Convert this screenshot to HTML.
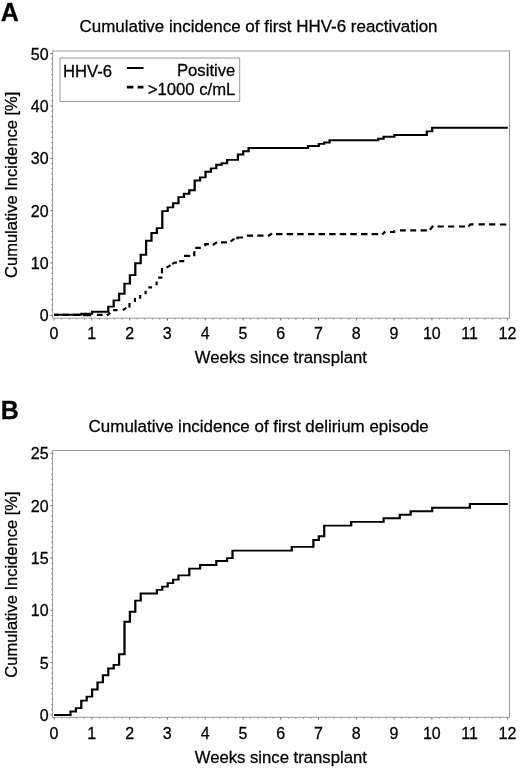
<!DOCTYPE html>
<html lang="en">
<head>
<meta charset="utf-8">
<title>Cumulative incidence figure</title>
<style>
html,body{margin:0;padding:0;background:#fff;}
body{width:520px;height:771px;overflow:hidden;}
svg{display:block;filter:grayscale(1);font-family:"Liberation Sans",sans-serif;font-size:16.6px;fill:#000;}
text{stroke:#000;stroke-width:0.28px;}
.ttl{font-size:16.97px;}
.lg{font-size:16.72px;}
.tk{font-size:16px;}
.pl{font-size:25px;font-weight:bold;}
.c{fill:none;stroke:#000;stroke-width:2.25;stroke-linejoin:miter;stroke-linecap:butt;}
.d{stroke-width:2.2;}
</style>
</head>
<body>
<svg width="520" height="771" viewBox="0 0 520 771">
<rect width="520" height="771" fill="#fff"/>

<g id="panelA">
<text class="pl" x="0.8" y="20.6">A</text>
<text class="ttl" x="258.5" y="31.6" text-anchor="middle">Cumulative incidence of first HHV-6 reactivation</text>
<rect x="52.6" y="51.0" width="456.9" height="267.2" fill="none" stroke="#9a9a9a" stroke-width="1"/>
<path d="M61.66 318.2v1.5 M69.21 318.2v1.5 M76.77 318.2v1.5 M84.32 318.2v1.5 M99.44 318.2v1.5 M106.99 318.2v1.5 M114.55 318.2v1.5 M122.10 318.2v1.5 M137.22 318.2v1.5 M144.77 318.2v1.5 M152.33 318.2v1.5 M159.88 318.2v1.5 M175.00 318.2v1.5 M182.55 318.2v1.5 M190.11 318.2v1.5 M197.66 318.2v1.5 M212.78 318.2v1.5 M220.33 318.2v1.5 M227.89 318.2v1.5 M235.44 318.2v1.5 M250.56 318.2v1.5 M258.11 318.2v1.5 M265.67 318.2v1.5 M273.22 318.2v1.5 M288.34 318.2v1.5 M295.89 318.2v1.5 M303.45 318.2v1.5 M311.00 318.2v1.5 M326.12 318.2v1.5 M333.67 318.2v1.5 M341.23 318.2v1.5 M348.78 318.2v1.5 M363.90 318.2v1.5 M371.45 318.2v1.5 M379.01 318.2v1.5 M386.56 318.2v1.5 M401.68 318.2v1.5 M409.23 318.2v1.5 M416.79 318.2v1.5 M424.34 318.2v1.5 M439.46 318.2v1.5 M447.01 318.2v1.5 M454.57 318.2v1.5 M462.12 318.2v1.5 M477.24 318.2v1.5 M484.79 318.2v1.5 M492.35 318.2v1.5 M499.90 318.2v1.5 M52.6 310.07h-1.5 M52.6 304.83h-1.5 M52.6 299.60h-1.5 M52.6 294.36h-1.5 M52.6 289.13h-1.5 M52.6 283.90h-1.5 M52.6 278.66h-1.5 M52.6 273.43h-1.5 M52.6 268.19h-1.5 M52.6 257.73h-1.5 M52.6 252.49h-1.5 M52.6 247.26h-1.5 M52.6 242.02h-1.5 M52.6 236.79h-1.5 M52.6 231.56h-1.5 M52.6 226.32h-1.5 M52.6 221.09h-1.5 M52.6 215.85h-1.5 M52.6 205.39h-1.5 M52.6 200.15h-1.5 M52.6 194.92h-1.5 M52.6 189.68h-1.5 M52.6 184.45h-1.5 M52.6 179.22h-1.5 M52.6 173.98h-1.5 M52.6 168.75h-1.5 M52.6 163.51h-1.5 M52.6 153.05h-1.5 M52.6 147.81h-1.5 M52.6 142.58h-1.5 M52.6 137.34h-1.5 M52.6 132.11h-1.5 M52.6 126.88h-1.5 M52.6 121.64h-1.5 M52.6 116.41h-1.5 M52.6 111.17h-1.5 M52.6 100.71h-1.5 M52.6 95.47h-1.5 M52.6 90.24h-1.5 M52.6 85.00h-1.5 M52.6 79.77h-1.5 M52.6 74.54h-1.5 M52.6 69.30h-1.5 M52.6 64.07h-1.5 M52.6 58.83h-1.5" stroke="#8a8a8a" stroke-width="0.85" fill="none"/>
<path d="M54.10 318.2v2.3 M91.88 318.2v2.3 M129.66 318.2v2.3 M167.44 318.2v2.3 M205.22 318.2v2.3 M243.00 318.2v2.3 M280.78 318.2v2.3 M318.56 318.2v2.3 M356.34 318.2v2.3 M394.12 318.2v2.3 M431.90 318.2v2.3 M469.68 318.2v2.3 M507.46 318.2v2.3 M52.6 315.30h-2.3 M52.6 262.96h-2.3 M52.6 210.62h-2.3 M52.6 158.28h-2.3 M52.6 105.94h-2.3 M52.6 53.60h-2.3" stroke="#6a6a6a" stroke-width="0.95" fill="none"/>
<g class="tk">
<text x="54.0" y="338.8" text-anchor="middle">0</text>
<text x="91.8" y="338.8" text-anchor="middle">1</text>
<text x="129.6" y="338.8" text-anchor="middle">2</text>
<text x="167.3" y="338.8" text-anchor="middle">3</text>
<text x="205.1" y="338.8" text-anchor="middle">4</text>
<text x="242.9" y="338.8" text-anchor="middle">5</text>
<text x="280.7" y="338.8" text-anchor="middle">6</text>
<text x="318.5" y="338.8" text-anchor="middle">7</text>
<text x="356.2" y="338.8" text-anchor="middle">8</text>
<text x="394.0" y="338.8" text-anchor="middle">9</text>
<text x="431.8" y="338.8" text-anchor="middle">10</text>
<text x="469.6" y="338.8" text-anchor="middle">11</text>
<text x="507.4" y="338.8" text-anchor="middle">12</text>
<text x="48.6" y="321.2" text-anchor="end">0</text>
<text x="48.6" y="268.9" text-anchor="end">10</text>
<text x="48.6" y="216.5" text-anchor="end">20</text>
<text x="48.6" y="164.2" text-anchor="end">30</text>
<text x="48.6" y="111.8" text-anchor="end">40</text>
<text x="48.6" y="59.5" text-anchor="end">50</text>
</g>
<text transform="translate(17.4 184.8) rotate(-90)" text-anchor="middle" font-size="16.5">Cumulative Incidence [%]</text>
<text x="280.8" y="363.4" text-anchor="middle" font-size="16.7">Weeks since transplant</text>
<rect x="60" y="58" width="179.7" height="43.4" fill="#fff" stroke="#9a9a9a" stroke-width="1"/>
<text class="lg" x="63" y="76.6">HHV-6</text>
<text class="lg" x="235.4" y="76.1" text-anchor="end">Positive</text>
<text class="lg" x="235.4" y="94.5" text-anchor="end">&gt;1000 c/mL</text>
<path class="c" style="stroke-width:2" d="M126.9 68H143.5"/>
<path class="c" style="stroke-width:2.7" d="M126.8 87.1H133.3M137.6 87.1H143.5"/>
<path class="c d" d="M54.1 314.9H58.5 M62.9 314.9H69.1 M73.5 314.9H79.7 M83.1 315.1H91.2 M96.9 314.9H102.6 M106.9 315.3L110.3 312.8 M113.1 310.1H117.6 M122.9 310.1L126.3 307.9 M129.5 307.5V303 M134.9 302V298 M140.2 298.8V295 M145.6 294.3V290.7 M148.4 287.4H152 M156.6 285.2V281.4 M158.2 277.7H162.4 M162 273.2V268 M166.6 267.7L170.6 265.1 M172.2 264.1L174.5 262.6H176.9 M179.3 261.2H184.3 M184 255.9H190.2 M194.3 256.2V251.2 M195.2 247.8H200.8 M204.3 245.1H205.3V244.2H208.9 M212.9 245L217 242.2 M221 242.3H227 M230.6 241.5L234.4 238.6 M236.3 238.2H237.6V237.5H243.1 M246.9 235.6H253.1 M257.3 235.6H263.5 M268 236.2L272 233.5 M276.0 234.1H282.5 M286.6 234.1H293.1 M297.2 234.1H303.7 M307.9 234.1H314.4 M318.5 234.1H325.0 M329.1 234.1H335.6 M339.7 234.1H346.2 M350.3 234.1H356.8 M361.0 234.1H367.5 M371.6 234.1H378.1 M382.3 234.5L385.2 231.5 M390 232H394.1V231.4H395.2 M400 230.4H405.8 M410.3 230.4H416.2 M420.6 230.4H426.9 M429.9 229.7L433.2 225.7 M437.5 226.5H443.8 M448.1 226.5H454.2 M459 226.5H465 M468.4 226.6L470.4 224.4H473.6 M478.6 224.4H484.8 M489 224.4H495.3 M499.9 224.5H506.3"/>
<g transform="scale(1 0.84)"><path class="c" d="M54.1 374.76H81.3V373.57H92.1V371.07H108.3V365.00H113.7V357.62H119.1V349.64H124.5V337.62H129.9V327.50H135.3V313.33H140.7V303.33H146.1V286.67H151.5V277.38H156.9V271.55H162.3V251.31H167.7V246.90H173.1V242.02H178.5V234.64H183.9V230.71H189.3V226.55H194.7V214.88H200.1V211.19H205.5V204.52H210.9V200.48H216.3V196.19H221.7V194.40H227.1V190.36H237.9V183.93H243.2V180.00H248.6V176.19H308.0V173.81H318.8V171.31H324.2V169.64H329.6V166.90H378.2V165.12H383.6V162.74H394.4V160.71H426.8V156.43H432.2V152.14H507.8"/></g>
</g>
<g id="panelB">
<text class="pl" x="0.8" y="419">B</text>
<text class="ttl" x="258.7" y="432.1" text-anchor="middle">Cumulative incidence of first delirium episode</text>
<rect x="52.6" y="450.5" width="456.9" height="266.8" fill="none" stroke="#9a9a9a" stroke-width="1"/>
<path d="M61.66 717.3v1.5 M69.21 717.3v1.5 M76.77 717.3v1.5 M84.32 717.3v1.5 M99.44 717.3v1.5 M106.99 717.3v1.5 M114.55 717.3v1.5 M122.10 717.3v1.5 M137.22 717.3v1.5 M144.77 717.3v1.5 M152.33 717.3v1.5 M159.88 717.3v1.5 M175.00 717.3v1.5 M182.55 717.3v1.5 M190.11 717.3v1.5 M197.66 717.3v1.5 M212.78 717.3v1.5 M220.33 717.3v1.5 M227.89 717.3v1.5 M235.44 717.3v1.5 M250.56 717.3v1.5 M258.11 717.3v1.5 M265.67 717.3v1.5 M273.22 717.3v1.5 M288.34 717.3v1.5 M295.89 717.3v1.5 M303.45 717.3v1.5 M311.00 717.3v1.5 M326.12 717.3v1.5 M333.67 717.3v1.5 M341.23 717.3v1.5 M348.78 717.3v1.5 M363.90 717.3v1.5 M371.45 717.3v1.5 M379.01 717.3v1.5 M386.56 717.3v1.5 M401.68 717.3v1.5 M409.23 717.3v1.5 M416.79 717.3v1.5 M424.34 717.3v1.5 M439.46 717.3v1.5 M447.01 717.3v1.5 M454.57 717.3v1.5 M462.12 717.3v1.5 M477.24 717.3v1.5 M484.79 717.3v1.5 M492.35 717.3v1.5 M499.90 717.3v1.5 M52.6 709.67h-1.5 M52.6 704.44h-1.5 M52.6 699.20h-1.5 M52.6 693.97h-1.5 M52.6 688.74h-1.5 M52.6 683.51h-1.5 M52.6 678.28h-1.5 M52.6 673.04h-1.5 M52.6 667.81h-1.5 M52.6 657.35h-1.5 M52.6 652.12h-1.5 M52.6 646.88h-1.5 M52.6 641.65h-1.5 M52.6 636.42h-1.5 M52.6 631.19h-1.5 M52.6 625.96h-1.5 M52.6 620.72h-1.5 M52.6 615.49h-1.5 M52.6 605.03h-1.5 M52.6 599.80h-1.5 M52.6 594.56h-1.5 M52.6 589.33h-1.5 M52.6 584.10h-1.5 M52.6 578.87h-1.5 M52.6 573.64h-1.5 M52.6 568.40h-1.5 M52.6 563.17h-1.5 M52.6 552.71h-1.5 M52.6 547.48h-1.5 M52.6 542.24h-1.5 M52.6 537.01h-1.5 M52.6 531.78h-1.5 M52.6 526.55h-1.5 M52.6 521.32h-1.5 M52.6 516.08h-1.5 M52.6 510.85h-1.5 M52.6 500.39h-1.5 M52.6 495.16h-1.5 M52.6 489.92h-1.5 M52.6 484.69h-1.5 M52.6 479.46h-1.5 M52.6 474.23h-1.5 M52.6 469.00h-1.5 M52.6 463.76h-1.5 M52.6 458.53h-1.5" stroke="#8a8a8a" stroke-width="0.85" fill="none"/>
<path d="M54.10 717.3v2.3 M91.88 717.3v2.3 M129.66 717.3v2.3 M167.44 717.3v2.3 M205.22 717.3v2.3 M243.00 717.3v2.3 M280.78 717.3v2.3 M318.56 717.3v2.3 M356.34 717.3v2.3 M394.12 717.3v2.3 M431.90 717.3v2.3 M469.68 717.3v2.3 M507.46 717.3v2.3 M52.6 714.90h-2.3 M52.6 662.58h-2.3 M52.6 610.26h-2.3 M52.6 557.94h-2.3 M52.6 505.62h-2.3 M52.6 453.30h-2.3" stroke="#6a6a6a" stroke-width="0.95" fill="none"/>
<g class="tk">
<text x="54.0" y="738.5" text-anchor="middle">0</text>
<text x="91.8" y="738.5" text-anchor="middle">1</text>
<text x="129.6" y="738.5" text-anchor="middle">2</text>
<text x="167.3" y="738.5" text-anchor="middle">3</text>
<text x="205.1" y="738.5" text-anchor="middle">4</text>
<text x="242.9" y="738.5" text-anchor="middle">5</text>
<text x="280.7" y="738.5" text-anchor="middle">6</text>
<text x="318.5" y="738.5" text-anchor="middle">7</text>
<text x="356.2" y="738.5" text-anchor="middle">8</text>
<text x="394.0" y="738.5" text-anchor="middle">9</text>
<text x="431.8" y="738.5" text-anchor="middle">10</text>
<text x="469.6" y="738.5" text-anchor="middle">11</text>
<text x="507.4" y="738.5" text-anchor="middle">12</text>
<text x="48.6" y="720.8" text-anchor="end">0</text>
<text x="48.6" y="668.5" text-anchor="end">5</text>
<text x="48.6" y="616.2" text-anchor="end">10</text>
<text x="48.6" y="563.8" text-anchor="end">15</text>
<text x="48.6" y="511.5" text-anchor="end">20</text>
<text x="48.6" y="459.2" text-anchor="end">25</text>
</g>
<text transform="translate(17.4 584.6) rotate(-90)" text-anchor="middle" font-size="16.5">Cumulative Incidence [%]</text>
<text x="280.8" y="762.7" text-anchor="middle" font-size="16.7">Weeks since transplant</text>
<g transform="scale(1 0.84)"><path class="c" d="M54.1 851.19H70.5V847.02H75.9V842.98H81.3V834.05H86.7V829.29H92.1V820.83H97.5V812.38H102.9V803.81H108.3V795.83H113.7V791.55H119.1V778.81H124.5V740.24H129.9V728.21H135.3V715.00H140.7V706.55H156.9V702.26H162.3V698.33H167.7V694.17H173.1V690.00H178.5V685.00H189.3V676.90H200.1V672.62H216.3V667.86H227.1V664.40H232.5V655.48H291.8V651.07H313.4V642.86H318.8V638.39H324.2V625.71H351.2V621.31H383.6V616.90H399.8V612.80H410.6V608.63H432.2V604.46H469.9V600.00H507.8"/></g>
</g>
</svg>
</body>
</html>
